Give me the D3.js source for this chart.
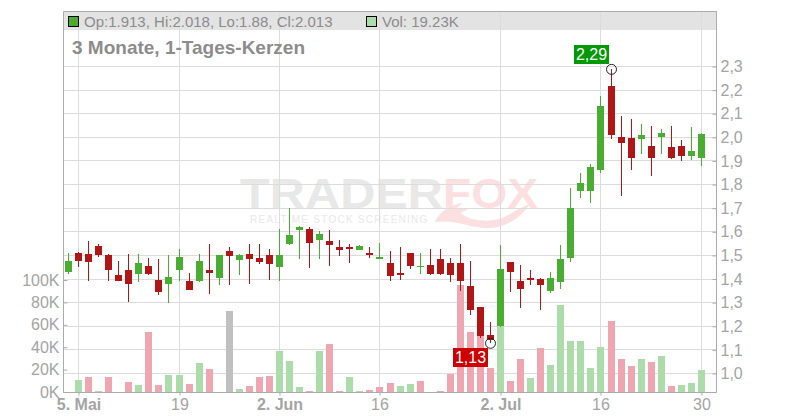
<!DOCTYPE html>
<html>
<head>
<meta charset="utf-8">
<script src="https://cdnjs.cloudflare.com/ajax/libs/d3/7.8.5/d3.min.js"></script>
<style>
  html, body { margin: 0; padding: 0; background: #fff; }
  svg { display: block; font-family: "Liberation Sans", Arial, sans-serif; }
</style>
</head>
<body>
<svg id="chart" width="800" height="420"></svg>
<script>
// daily candles
const opens = [1.429,1.510,1.506,1.539,1.501,1.417,1.438,1.421,1.455,1.395,1.378,1.438,1.391,1.391,1.438,1.404,
  1.518,1.480,1.506,1.489,1.501,1.450,1.548,1.607,1.611,1.565,1.561,1.535,1.535,1.523,1.510,1.484,
  1.467,1.425,1.510,1.450,1.459,1.484,1.467,1.467,1.370,1.281,1.162,1.200,1.472,1.391,1.404,1.400,
  1.349,1.387,1.489,1.772,1.772,1.861,2.217,2.001,1.997,1.993,1.963,2.001,1.959,1.963,1.921,1.913];
const highs = [1.510,1.514,1.561,1.548,1.506,1.476,1.506,1.506,1.489,1.484,1.501,1.527,1.425,1.506,1.548,1.501,
  1.535,1.506,1.548,1.548,1.527,1.611,1.700,1.624,1.620,1.603,1.607,1.565,1.548,1.544,1.535,1.552,
  1.518,1.535,1.510,1.510,1.527,1.527,1.489,1.548,1.476,1.281,1.217,1.544,1.472,1.459,1.438,1.404,
  1.429,1.544,1.785,1.849,1.887,2.175,2.290,2.090,2.078,2.056,2.048,2.035,2.048,1.989,2.044,2.018];
const lows = [1.421,1.450,1.391,1.493,1.391,1.391,1.302,1.387,1.417,1.332,1.298,1.391,1.353,1.387,1.336,1.374,
  1.374,1.417,1.378,1.463,1.395,1.391,1.544,1.484,1.446,1.484,1.455,1.497,1.467,1.523,1.489,1.484,
  1.391,1.395,1.442,1.421,1.417,1.417,1.387,1.349,1.247,1.150,1.130,1.196,1.344,1.277,1.374,1.268,
  1.340,1.357,1.472,1.743,1.722,1.849,1.993,1.751,1.861,1.929,1.836,1.929,1.908,1.900,1.904,1.880];
const closes = [1.476,1.476,1.472,1.501,1.438,1.391,1.378,1.467,1.421,1.345,1.408,1.493,1.353,1.476,1.425,1.501,
  1.497,1.501,1.484,1.472,1.463,1.501,1.586,1.620,1.552,1.590,1.544,1.523,1.527,1.539,1.501,1.493,
  1.412,1.417,1.455,1.455,1.421,1.421,1.417,1.391,1.268,1.158,1.141,1.442,1.429,1.357,1.395,1.374,
  1.404,1.484,1.700,1.806,1.874,2.133,2.010,1.976,1.912,2.010,1.912,2.018,1.912,1.921,1.942,2.013];

// volume in thousands, and the colour class each bar has in the picture
const volumes = [0,11.0,13.7,1.2,13.7,0,9.2,6.5,53.9,6.5,15.5,15.5,7.4,26.2,20.8,0,
  72.6,3.0,5.7,13.7,14.6,36.9,28.0,4.8,1.2,36.9,43.2,1.2,13.7,1.2,2.1,4.8,
  8.3,5.7,7.4,10.1,0,1.2,16.4,95.7,53.9,50.3,21.7,59.2,10.1,29.8,12.8,39.6,
  24.4,78.0,45.8,45.8,21.7,40.5,63.7,29.8,23.5,29.8,27.1,32.4,5.7,6.5,8.3,19.23];
const volumeKinds = ["n","u","d","u","d","n","d","u","d","d","u","u","d","u","d","n",
  "f","u","d","d","d","u","u","u","d","u","d","d","u","u","d","d",
  "d","u","u","d","n","d","d","d","d","d","d","u","d","d","u","d",
  "u","u","u","u","u","u","d","d","d","u","d","u","d","u","u","u"];

const priceTicks = [1.0,1.1,1.2,1.3,1.4,1.5,1.6,1.7,1.8,1.9,2.0,2.1,2.2,2.3];
const volumeTicks = [0,20,40,60,80,100];
const dateTickIndex = [1,11,21,31,43,53,63];
const dateTickLabels = ["5. Mai","19","2. Jun","16","2. Jul","16","30"];
const dateTickMonth = [true,false,true,false,true,false,false];
const maxIndex = 54, minIndex = 42;

const GREEN = "#48ad30", RED = "#b01616";
const VOL_COLOR = { u: "#acdcaa", d: "#f0a6b0", f: "#c0c0c0" };
const TEXT = "#a4a4a4", LEGEND = "#8c8c8c", GRID = "#dcdcdc", FRAME = "#ababab";

const plotL = 63.5, plotR = 716.5, plotT = 11.5, plotB = 392.5;

const svg = d3.select("#chart");
const x = d3.scalePoint().domain(d3.range(opens.length)).range([68.035, 700.933]);
const y = d3.scaleLinear().domain([1.0, 2.3]).range([373.5, 66.5]);
const v = d3.scaleLinear().domain([0, 100]).range([392, 280]);
const px = i => Math.round(x(i));

// header band
svg.append("rect").attr("x", plotL).attr("y", plotT).attr("width", plotR - plotL).attr("height", 18.5).attr("fill", "#e3e3e3");

// watermark
const mark = svg.append("g");
mark.append("text").attr("x", 240).attr("y", 208).attr("font-size", 43).attr("font-weight", "bold")
  .attr("textLength", 203).attr("lengthAdjust", "spacingAndGlyphs").attr("fill", "#e8e8e8").text("TRADER");
mark.append("text").attr("x", 443).attr("y", 208).attr("font-size", 43).attr("font-weight", "bold")
  .attr("textLength", 95).attr("lengthAdjust", "spacingAndGlyphs").attr("fill", "#fcdfe1").text("FOX");
mark.append("text").attr("x", 250).attr("y", 223).attr("font-size", 10).attr("letter-spacing", 1.25)
  .attr("fill", "#e8e8e8").text("REALTIME STOCK SCREENING");
mark.append("path").attr("fill", "#fcdfe1")
  .attr("d", "M435,222 C438,214 448,205 463,203 L455,209 L468,209 L461,213 C470,222 495,224 510,214 C518,209 524,206 530,204 C522,216 508,228 487,228 C470,228 455,219 435,222 Z");

// grid
svg.append("g").selectAll("line").data(priceTicks).join("line")
  .attr("x1", plotL).attr("x2", plotR)
  .attr("y1", d => Math.floor(y(d)) + 0.5).attr("y2", d => Math.floor(y(d)) + 0.5)
  .attr("stroke", GRID);
svg.append("g").selectAll("line").data(dateTickIndex).join("line")
  .attr("x1", d => px(d) + 0.5).attr("x2", d => px(d) + 0.5)
  .attr("y1", plotT).attr("y2", plotB)
  .attr("stroke", GRID);

// volume bars
svg.append("g").selectAll("rect").data(volumes).join("rect")
  .attr("x", (d, i) => px(i) - 3)
  .attr("width", 7)
  .attr("y", d => Math.round(v(d)))
  .attr("height", d => 392 - Math.round(v(d)))
  .attr("fill", (d, i) => VOL_COLOR[volumeKinds[i]] || "none");

// candles
const candles = svg.append("g").selectAll("g").data(d3.range(opens.length)).join("g")
  .attr("fill", i => closes[i] >= opens[i] ? GREEN : RED);
candles.append("rect")
  .attr("x", i => px(i))
  .attr("width", 1)
  .attr("y", i => Math.round(y(highs[i])))
  .attr("height", i => Math.round(y(lows[i])) - Math.round(y(highs[i])));
candles.append("rect")
  .attr("x", i => px(i) - 3)
  .attr("width", 7)
  .attr("y", i => Math.round(y(Math.max(opens[i], closes[i]))))
  .attr("height", i => Math.max(1, Math.round(y(Math.min(opens[i], closes[i]))) - Math.round(y(Math.max(opens[i], closes[i])))));

// frame
svg.append("path").attr("fill", "none").attr("stroke", FRAME)
  .attr("d", `M${plotL},${plotB}V${plotT}H${plotR}V${plotB}H${plotL}`);

// right axis (price)
const priceAxis = svg.append("g").attr("transform", `translate(${plotR},0)`)
  .call(d3.axisRight(y).tickValues(priceTicks).tickSize(-4).tickPadding(4)
    .tickFormat(d => d3.format(".1f")(d).replace(".", ",")));
priceAxis.select(".domain").remove();
priceAxis.selectAll("line").attr("stroke", FRAME);
priceAxis.selectAll("text").attr("font-size", 16).attr("fill", TEXT);

// left axis (volume)
const volAxis = svg.append("g").attr("transform", `translate(${plotL},0)`)
  .call(d3.axisLeft(v).tickValues(volumeTicks).tickSize(-4).tickPadding(4).tickFormat(d => d + "K"));
volAxis.select(".domain").remove();
volAxis.selectAll("line").attr("stroke", FRAME);
volAxis.selectAll("text").attr("font-size", 16).attr("fill", TEXT);

// date axis
const dateAxis = svg.append("g").attr("transform", `translate(0,${plotB})`)
  .call(d3.axisBottom(d3.scaleLinear().domain([0, 800]).range([0, 800]))
    .tickValues(dateTickIndex.map(d => px(d) + 0.5)).tickSize(3).tickPadding(3)
    .tickFormat((d, i) => dateTickLabels[i]));
dateAxis.select(".domain").remove();
dateAxis.selectAll("line").attr("stroke", FRAME);
dateAxis.selectAll("text").attr("font-size", 16).attr("fill", TEXT)
  .attr("font-weight", (d, i) => dateTickMonth[i] ? "bold" : "normal");

// legend
const last = opens.length - 1;
svg.append("rect").attr("x", 68.5).attr("y", 16.5).attr("width", 10).attr("height", 10)
  .attr("fill", GREEN).attr("stroke", "#000");
svg.append("text").attr("x", 84).attr("y", 27).attr("font-size", 15).attr("fill", LEGEND)
  .text(`Op:${opens[last]}, Hi:${highs[last]}, Lo:${lows[last]}, Cl:${closes[last]}`);
svg.append("rect").attr("x", 366.5).attr("y", 16.5).attr("width", 10).attr("height", 10)
  .attr("fill", VOL_COLOR.u).attr("stroke", "#000");
svg.append("text").attr("x", 382).attr("y", 27).attr("font-size", 15).attr("fill", LEGEND)
  .text(`Vol: ${volumes[last]}K`);
svg.append("text").attr("x", 72).attr("y", 54).attr("font-size", 19).attr("font-weight", "bold").attr("fill", LEGEND)
  .text("3 Monate, 1-Tages-Kerzen");

// high and low callouts
function callout(i, value, boxX, boxY, color) {
  svg.append("circle").attr("cx", px(i) + 0.5).attr("cy", y(value) + 0.5).attr("r", 5)
    .attr("fill", "none").attr("stroke", "#222");
  svg.append("rect").attr("x", boxX).attr("y", boxY).attr("width", 35).attr("height", 19).attr("fill", color);
  svg.append("text").attr("x", boxX + 17.5).attr("y", boxY + 15).attr("text-anchor", "middle")
    .attr("font-size", 16).attr("fill", "#fff").text(d3.format(".2f")(value).replace(".", ","));
}
callout(maxIndex, highs[maxIndex], 574, 45, "#009900");
callout(minIndex, lows[minIndex], 453, 348, "#cc0000");
</script>
</body>
</html>
